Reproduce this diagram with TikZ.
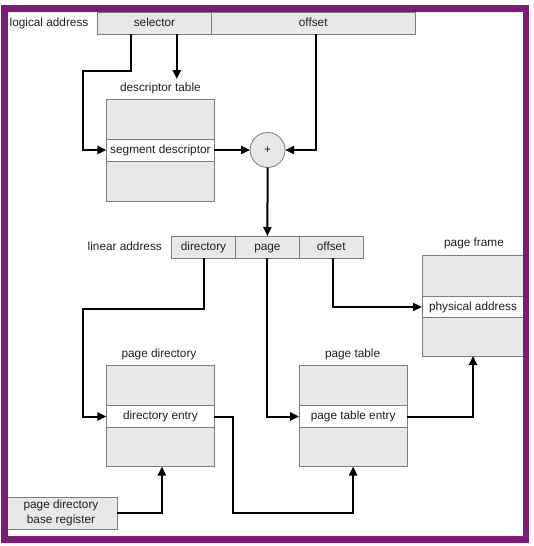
\documentclass[tikz,border=0pt]{standalone}
\usepackage{fontspec}
\setmainfont{Liberation Sans}
\usetikzlibrary{arrows.meta}
\definecolor{framepurple}{RGB}{126,26,122}
\definecolor{cellgray}{RGB}{232,232,232}
\definecolor{boxgray}{RGB}{125,125,125}
\begin{document}
\begin{tikzpicture}[x=1pt,y=-1pt,
  every node/.style={font=\fontsize{11.8}{15}\selectfont, text=black!88, inner sep=0pt, outer sep=0pt, text height=8.6pt, text depth=2.4pt},
  cell/.style={draw=boxgray, fill=cellgray, line width=0.8pt, minimum height=22pt},
  tablebox/.style={draw=boxgray, fill=cellgray, line width=0.8pt, minimum width=108pt, minimum height=102pt},
  entry/.style={draw=boxgray, fill=white, line width=0.8pt, minimum width=108pt, minimum height=22pt},
  conn/.style={line width=2pt, -{Triangle[length=9pt,width=8pt]}},
  summer/.style={circle, draw=boxgray, fill=cellgray, line width=0.8pt, minimum size=35pt},
]
\useasboundingbox (0,0) rectangle (533,546);

% logical address
\node (lal) at (49,23) {logical address};
\node[cell, minimum width=114pt] (sel) at (154.5,23) {selector};
\node[cell, minimum width=203.5pt] (off) at (313.25,23) {offset};

% descriptor table
\node (dtl) at (160.4,88) {descriptor table};
\node[tablebox] (dt) at (160.4,150) {};
\node[entry] (sd) at (160.4,150) {segment descriptor};

\node[summer] (sum) at (267.6,150) {+};

% linear address
\node (lil) at (124.8,247) {linear address};
\node[cell, minimum width=63.6pt] (dir) at (203.5,247) {directory};
\node[cell, minimum width=64.2pt] (pg) at (267.4,247) {page};
\node[cell, minimum width=63.5pt] (loff) at (331.25,247) {offset};

% page frame
\node (pfl) at (474,243) {page frame};
\node[tablebox, minimum width=102pt, minimum height=101pt] (pf) at (473,305.5) {};
\node[entry, minimum width=102pt, minimum height=21.5pt] (pa) at (473,307) {physical address};

% page directory
\node (pdl) at (159,354) {page directory};
\node[tablebox, minimum height=101.5pt] (pd) at (160.4,415.75) {};
\node[entry] (de) at (160.4,416.5) {directory entry};

% page table
\node (ptl) at (352.6,354) {page table};
\node[tablebox, minimum height=101.5pt] (pt) at (353.15,415.75) {};
\node[entry] (pte) at (353.15,416.5) {page table entry};

% page directory base register
\node[cell, minimum width=112pt, minimum height=31.5pt, align=center, text height={}, text depth={}] (pdbr) at (61,513.25) {page directory\\base register};

% connectors
\coordinate (b1) at (83.3,71);
\draw[conn] ([xshift=-23.5pt]sel.south) |- (b1) |- (sd.west);
\coordinate (dtin) at (176.8,79);
\draw[conn] (sel.south -| dtin) -- (dtin);
\draw[conn] (sd.east) -- (sum.west);
\draw[conn] ([xshift=2.75pt]off.south) |- (sum.east);
\draw[conn] (sum.south) -- (pg.north);
\coordinate (b2) at (83.3,309);
\draw[conn] (dir.south) |- (b2) |- (de.west);
\draw[conn] (pg.south) |- (pte.west);
\draw[conn] ([xshift=1.75pt]loff.south) |- (pa.west);
\draw[conn] (pte.east) -| (pf.south);
\coordinate (b3) at (233,513.3);
\draw[conn] (de.east) -| (b3) -| (pt.south);
\draw[conn] (pdbr.east) -| ([xshift=1.5pt]pd.south);

% frame
\draw[framepurple, line width=6.5pt] (4.25,8.5) rectangle (525.75,539.5);
\end{tikzpicture}
\end{document}
